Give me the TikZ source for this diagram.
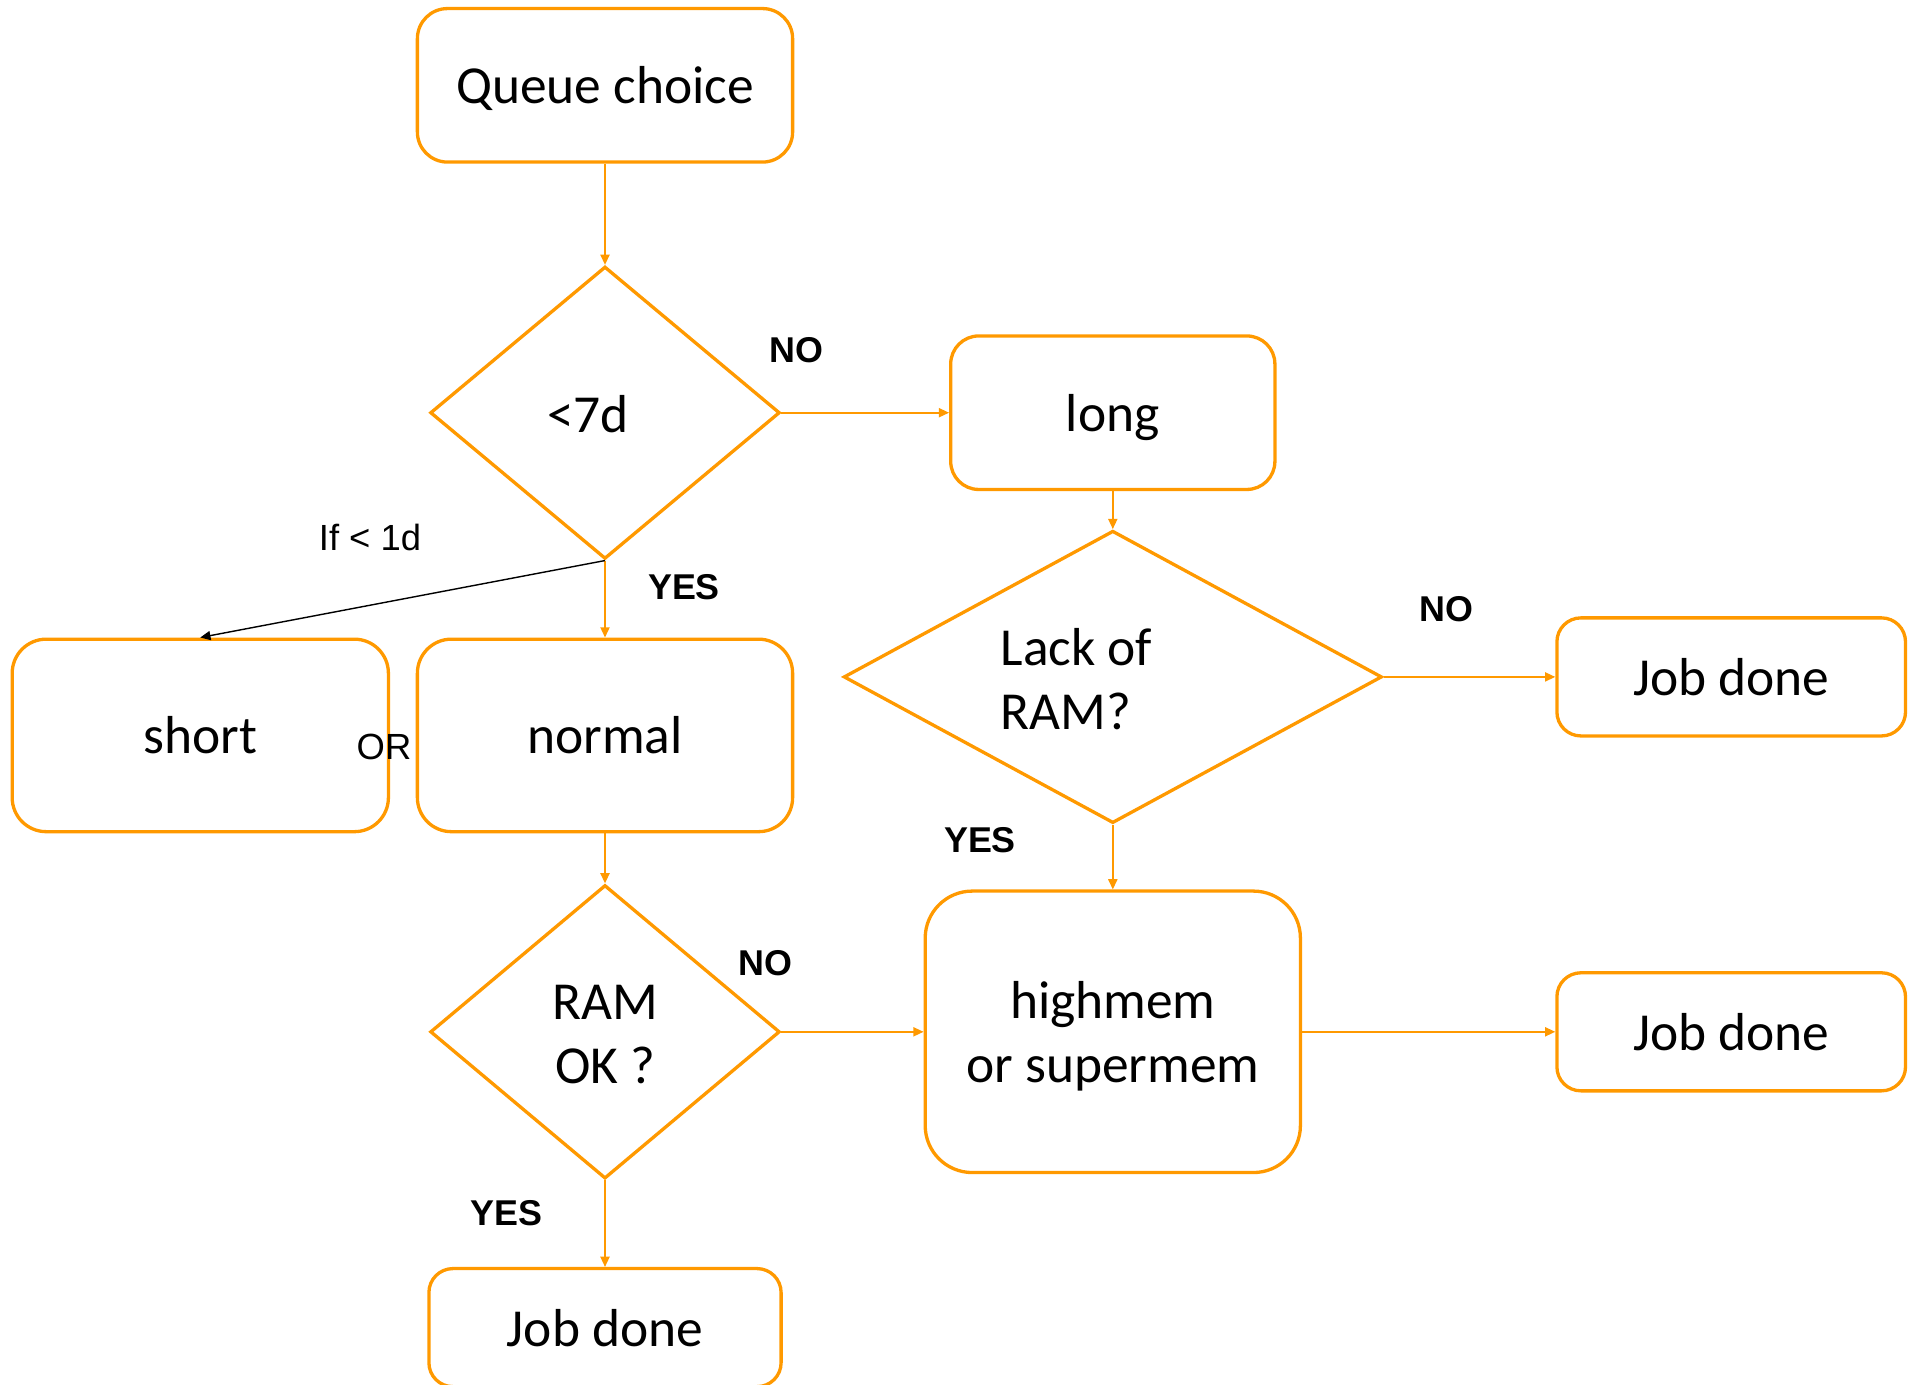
\documentclass[tikz,border=0pt]{standalone}
\usepackage{fontspec}
\setmainfont{Carlito}
\newfontfamily\labelfont{Liberation Sans}
\usetikzlibrary{shapes.geometric,arrows.meta}
\definecolor{qorange}{RGB}{255,153,0}
\begin{document}
\begin{tikzpicture}[x=0.01cm,y=-0.01cm,
  box/.style={draw=qorange,line width=0.94pt,rounded corners=0.3cm,inner sep=0,
    font=\fontsize{15.2}{18.2}\selectfont,text height=0.37cm,text depth=0cm,align=center},
  decision/.style={draw=qorange,line width=0.94pt,diamond,inner sep=0,minimum width=3.494cm,minimum height=2.922cm},
  txt/.style={font=\fontsize{15.2}{18.2}\selectfont,inner sep=0,anchor=base},
  lbl/.style={font=\labelfont\bfseries\fontsize{10.2}{12}\selectfont,inner sep=0},
  plainlbl/.style={font=\labelfont\fontsize{10.35}{12}\selectfont,inner sep=0},
  flow/.style={draw=qorange,line width=0.45pt,-{Triangle[length=2.9pt,width=2.6pt]}},
  blackflow/.style={draw=black,line width=0.4pt,-{Triangle[length=2.9pt,width=2.6pt]}}]
\useasboundingbox (0,0) rectangle (1909,1384);

% boxes
\node[box,minimum width=3.75cm,minimum height=1.534cm] (queue) at (605,85.3) {Queue choice};
\node[box,minimum width=3.24cm,minimum height=1.534cm,rounded corners=0.28cm] (long) at (1112.8,412.7) {long};
\node[box,minimum width=3.484cm,minimum height=1.18cm,rounded corners=0.24cm] (jd1) at (1731.2,676.9) {Job done};
\node[box,minimum width=3.76cm,minimum height=1.924cm,rounded corners=0.34cm] (short) at (200.3,735.4) {short};
\node[box,minimum width=3.75cm,minimum height=1.924cm,rounded corners=0.34cm] (normal) at (605,735.4) {normal};
\node[box,minimum width=3.75cm,minimum height=2.813cm,rounded corners=0.47cm,text depth=0.64cm]
  (high) at (1112.8,1031.8) {\begin{tabular}[t]{@{}c@{}}highmem\\or supermem\end{tabular}};
\node[box,minimum width=3.484cm,minimum height=1.18cm,rounded corners=0.24cm] (jd2) at (1731.2,1031.8) {Job done};
\node[box,minimum width=3.52cm,minimum height=1.18cm,rounded corners=0.24cm] (jd3) at (605,1327.6) {Job done};

% decisions
\node[decision] (d1) at (605,412.7) {};
\node[txt] (d1t) at (588,432) {<7d};
\node[decision,minimum width=5.38cm] (d2) at (1112.8,676.9) {};
\node[txt,anchor=base west] (d2t) at (1000,665) {\begin{tabular}[t]{@{}l@{}}Lack of\\RAM?\end{tabular}};
\node[decision,minimum height=2.934cm] (d3) at (605,1031.8) {};
\node[txt] (d3t) at (605,1019) {\begin{tabular}[t]{@{}c@{}}RAM\\OK ?\end{tabular}};

% connectors
\draw[flow] (queue) -- (d1);
\draw[flow] (d1) -- (long);
\draw[flow] (d1.south) -- (normal.north);
\draw[blackflow] (d1.south) -- (short.north);
\draw[flow] (long) -- (d2);
\draw[flow] (d2) -- (jd1);
\draw[flow] (d2) -- (high);
\draw[flow] (normal) -- (d3);
\draw[flow] (d3) -- (high);
\draw[flow] (high) -- (jd2);
\draw[flow] (d3) -- (jd3);

% labels
\node[lbl] (no1) at (796,350.6) {NO};
\node[plainlbl] (if1) at (370,537) {If < 1d};
\node[lbl] (yes1) at (684,587) {YES};
\node[lbl] (no2) at (1446.4,608.8) {NO};
\node[plainlbl] (or1) at (384,746.5) {OR};
\node[lbl] (yes2) at (980,840) {YES};
\node[lbl] (no3) at (765.8,963) {NO};
\node[lbl] (yes3) at (506.5,1213.5) {YES};
\end{tikzpicture}
\end{document}
